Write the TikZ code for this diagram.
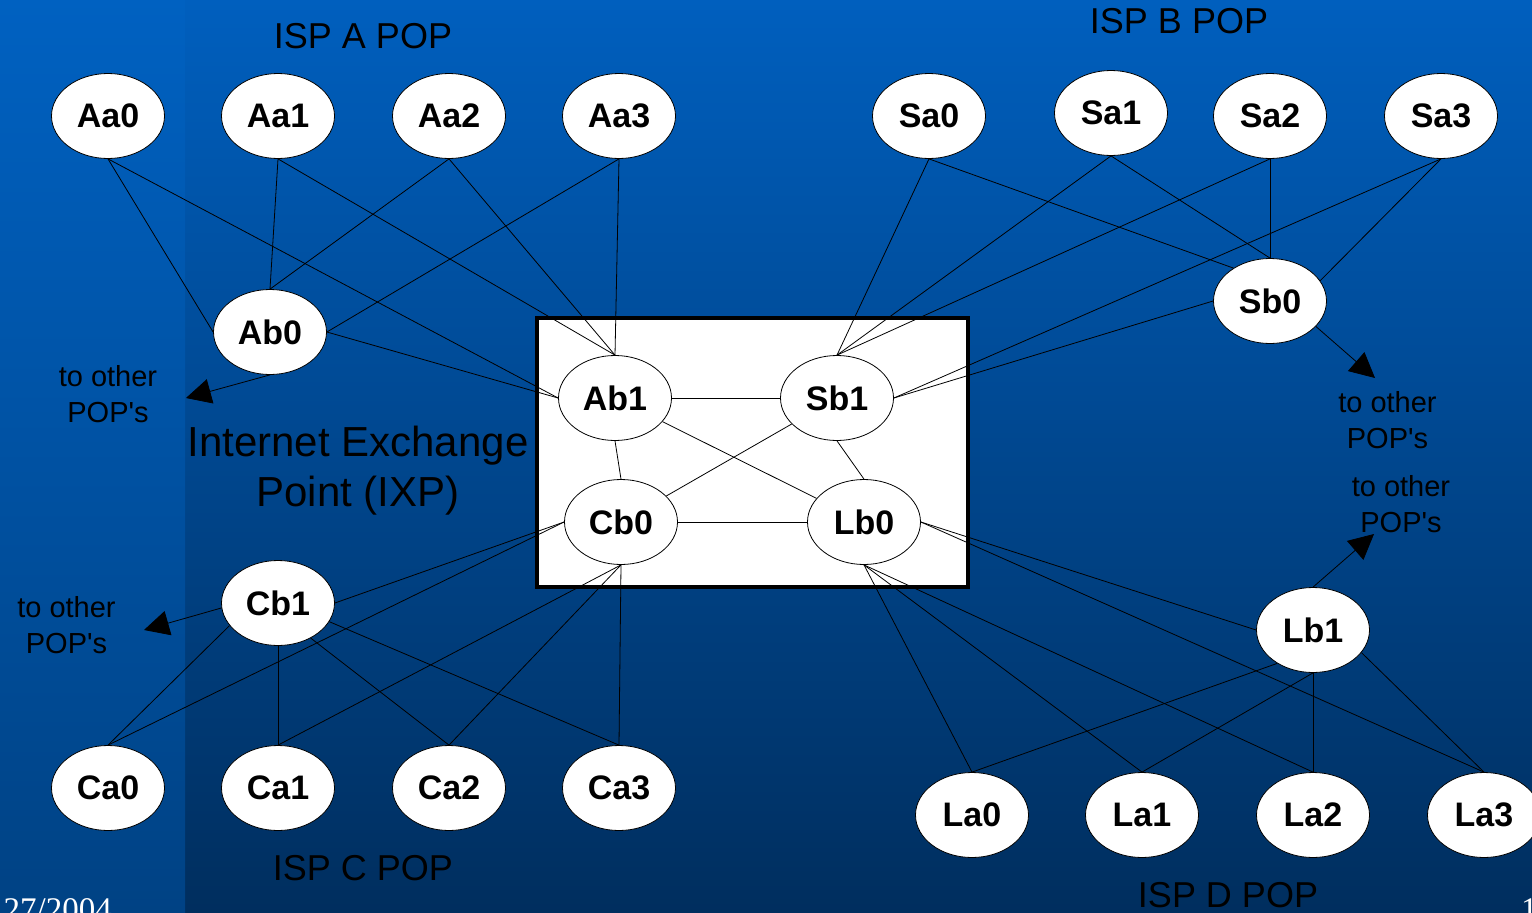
\documentclass[tikz,border=0pt]{standalone}
\usepackage{fontspec}
\setmainfont{Liberation Sans}
\newfontfamily\datefont{Liberation Serif}
\usetikzlibrary{shapes.geometric,arrows.meta}
\pgfdeclarelayer{bg}
\pgfdeclarelayer{wires}
\pgfsetlayers{bg,wires,main}
\definecolor{bgtop}{RGB}{0,95,190}
\definecolor{bgbot}{RGB}{0,46,94}
\definecolor{striptop}{RGB}{0,97,193}
\definecolor{stripbot}{RGB}{0,66,132}
\newcommand{\otherpops}{to other\\POP\textquotesingle s}
\begin{document}
\begin{tikzpicture}[x=1pt,y=-1pt,
  pop/.style={ellipse,draw=black,line width=0.8pt,fill=white,
    minimum width=113pt,minimum height=85pt,inner sep=0pt,
    font=\fontsize{34}{34}\selectfont\bfseries},
  wire/.style={draw=black,line width=0.8pt},
  outlink/.style={wire,-{Triangle[length=25pt,width=25pt]}},
  isptitle/.style={font=\fontsize{36}{36}\selectfont,inner sep=0pt,anchor=base},
  note/.style={font=\fontsize{29}{36}\selectfont,align=center,inner sep=0pt},
  slidefoot/.style={text=white,inner sep=0pt,font=\datefont\fontsize{33}{33}\selectfont}
]
\useasboundingbox (0,0) rectangle (1532,913);

% slide background
\begin{pgfonlayer}{bg}
  \shade[top color=bgtop,bottom color=bgbot] (0,0) rectangle (1532,913);
  \shade[top color=striptop,bottom color=stripbot] (0,0) rectangle (185,913);
  % exchange point enclosure
  \draw[line width=3.2pt,fill=white] (537,318) rectangle (968,587);
\end{pgfonlayer}

% ISP A
\node[pop] (Aa0) at (108,116) {Aa0};
\node[pop] (Aa1) at (278,116) {Aa1};
\node[pop] (Aa2) at (449,116) {Aa2};
\node[pop] (Aa3) at (619,116) {Aa3};
\node[pop] (Ab0) at (270,332) {Ab0};
% ISP B
\node[pop] (Sa0) at (929,116) {Sa0};
\node[pop] (Sa1) at (1111,113) {Sa1};
\node[pop] (Sa2) at (1270,116) {Sa2};
\node[pop] (Sa3) at (1441,116) {Sa3};
\node[pop] (Sb0) at (1270,301) {Sb0};
% routers inside the exchange point
\node[pop] (Ab1) at (615,398) {Ab1};
\node[pop] (Sb1) at (837,398) {Sb1};
\node[pop] (Cb0) at (621,522) {Cb0};
\node[pop] (Lb0) at (864,522) {Lb0};
% ISP C
\node[pop] (Cb1) at (278,603) {Cb1};
\node[pop] (Ca0) at (108,788) {Ca0};
\node[pop] (Ca1) at (278,788) {Ca1};
\node[pop] (Ca2) at (449,788) {Ca2};
\node[pop] (Ca3) at (619,788) {Ca3};
% ISP D
\node[pop] (Lb1) at (1313,630) {Lb1};
\node[pop] (La0) at (972,815) {La0};
\node[pop] (La1) at (1142,815) {La1};
\node[pop] (La2) at (1313,815) {La2};
\node[pop] (La3) at (1484,815) {La3};

% free ends of the links leaving the diagram
\coordinate (tipAb0) at (186,398);
\coordinate (tipCb1) at (144,630);
\coordinate (tipSb0) at (1375,378);
\coordinate (tipLb1) at (1374,534);

\begin{pgfonlayer}{wires}
  % ISP A
  \draw[wire] (Aa0.south) -- (Ab0.west);
  \draw[wire] (Aa0.south) -- (Ab1.west);
  \draw[wire] (Aa1.south) -- (Ab0.north);
  \draw[wire] (Aa1.south) -- (Ab1.north);
  \draw[wire] (Aa2.south) -- (Ab0.north);
  \draw[wire] (Aa2.south) -- (Ab1.north);
  \draw[wire] (Aa3.south) -- (Ab0.east);
  \draw[wire] (Aa3.south) -- (Ab1.north);
  \draw[wire] (Ab0.east) -- (Ab1.west);
  \draw[outlink] (Ab0.south) -- (tipAb0);
  % ISP B
  \draw[wire] (Sa0.south) -- (Sb1.north);
  \draw[wire] (Sa0.south) -- (Sb0.138);
  \draw[wire] (Sa1.south) -- (Sb1.north);
  \draw[wire] (Sa1.south) -- (Sb0.north);
  \draw[wire] (Sa2.south) -- (Sb1.north);
  \draw[wire] (Sa2.south) -- (Sb0.north);
  \draw[wire] (Sa3.south) -- (Sb1.east);
  \draw[wire] (Sa3.south) -- (Sb0.22);
  \draw[wire] (Sb0.west) -- (Sb1.east);
  \draw[outlink] (Sb0.-29) -- (tipSb0);
  % exchange point mesh
  \draw[wire] (Ab1.east) -- (Sb1.west);
  \draw[wire] (Ab1.south) -- (Cb0.north);
  \draw[wire] (Ab1) -- (Lb0);
  \draw[wire] (Sb1) -- (Cb0);
  \draw[wire] (Sb1.south) -- (Lb0.north);
  \draw[wire] (Cb0.east) -- (Lb0.west);
  % ISP C
  \draw[wire] (Ca0.north) -- (Cb1.205);
  \draw[wire] (Ca0.north) -- (Cb0.west);
  \draw[wire] (Ca1.north) -- (Cb1.south);
  \draw[wire] (Ca1.north) -- (Cb0.south);
  \draw[wire] (Ca2.north) -- (Cb1.-47);
  \draw[wire] (Ca2.north) -- (Cb0.south);
  \draw[wire] (Ca3.north) -- (Cb1.-20);
  \draw[wire] (Ca3.north) -- (Cb0.south);
  \draw[wire] (Cb1.east) -- (Cb0.west);
  \draw[outlink] (Cb1.185) -- (tipCb1);
  % ISP D
  \draw[wire] (La0.north) -- (Lb0.south);
  \draw[wire] (La0.north) -- (Lb1.223);
  \draw[wire] (La1.north) -- (Lb0.south);
  \draw[wire] (La1.north) -- (Lb1.south);
  \draw[wire] (La2.north) -- (Lb0.south);
  \draw[wire] (La2.north) -- (Lb1.south);
  \draw[wire] (La3.north) -- (Lb0.east);
  \draw[wire] (La3.north) -- (Lb1.-25);
  \draw[wire] (Lb0.east) -- (Lb1.west);
  \draw[outlink] (Lb1.north) -- (tipLb1);
\end{pgfonlayer}

% titles
\node[isptitle] (tA) at (363,48) {ISP A POP};
\node[isptitle] (tB) at (1179,33) {ISP B POP};
\node[isptitle] (tC) at (363,880) {ISP C POP};
\node[isptitle] (tD) at (1228,907) {ISP D POP};
\node[font=\fontsize{42}{50}\selectfont,align=center,inner sep=0pt] (ixp) at (358,471)
  {Internet Exchange\\Point (IXP)};

% notes next to the outgoing links
\node[note] (nA) at (108,394.5) {\otherpops};
\node[note] (nC) at (66.5,625) {\otherpops};
\node[note] (nB) at (1387.5,420.5) {\otherpops};
\node[note] (nD) at (1401,504.5) {\otherpops};

% slide footer, running off the lower edge of the slide
\node[slidefoot,anchor=base east] (date) at (112,920) {27/2004};
\node[slidefoot,anchor=base west] (page) at (1521,920) {1};
\end{tikzpicture}
\end{document}
